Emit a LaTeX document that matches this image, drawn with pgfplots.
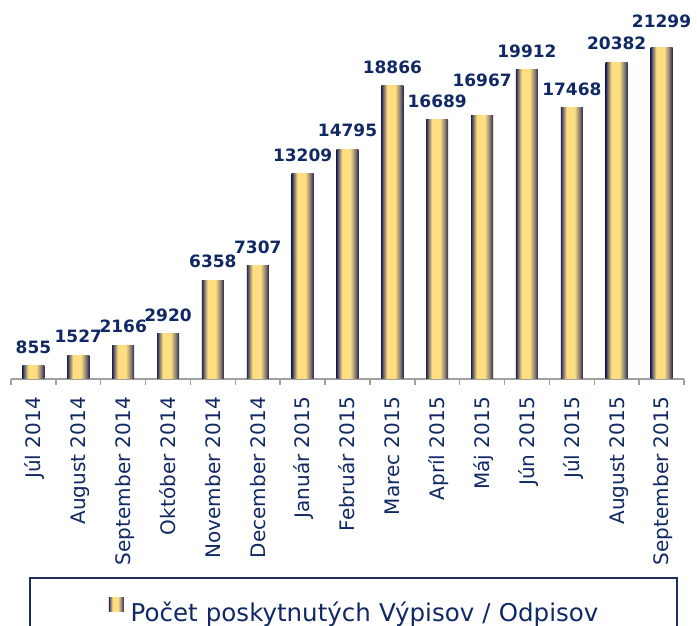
\documentclass[border=0pt]{standalone}
\usepackage{fontspec}
\setmainfont{DejaVu Sans}
\usepackage{pgfplots}
\pgfplotsset{compat=1.18}
\definecolor{labelnavy}{RGB}{16,40,100}
\definecolor{barnavy}{RGB}{32,36,92}
\definecolor{bargold}{RGB}{254,222,128}
\colorlet{barmid}{bargold!45!barnavy}
\colorlet{barnavyB}{barnavy!75!bargold}
\definecolor{axisgray}{RGB}{160,160,160}
\definecolor{legnavy}{RGB}{30,44,92}
\pgfdeclarehorizontalshading{barshade}{100bp}{color(0bp)=(barnavy); color(25bp)=(barnavy); color(28bp)=(barnavyB); color(38bp)=(bargold); color(56bp)=(bargold); color(68bp)=(barmid); color(75bp)=(barnavy); color(100bp)=(barnavy)}
% one bar per plot so that each bar gets its own shading: x, value, label gap (pt)
\newcommand\onebar[3]{%
  \addplot[bar shift=0pt, draw=none, shading=barshade, shading angle=0, forget plot,
    nodes near coords,
    every node near coord/.append style={anchor=south, inner sep=0pt, font=\fontsize{17}{20}\selectfont\bfseries, text=labelnavy, yshift=#3pt}]
    coordinates {(#1,#2)};}
\begin{document}
\begin{tikzpicture}
\useasboundingbox (0,0) rectangle (697pt,626pt);
\clip (0,0) rectangle (697pt,626pt);
\begin{axis}[
  at={(11pt,247pt)}, anchor=south west,
  scale only axis, width=673pt, height=379pt,
  xmin=-0.5, xmax=14.5, ymin=0, ymax=24388,
  enlargelimits=false,
  ybar, bar width=0.49,
  axis y line=none, axis x line=bottom,
  axis line style={-, draw=axisgray, line width=1.5pt},
  ytick=\empty,
  xtick={0,...,14},
  major tick length=0pt,
  minor xtick={-0.5,0.5,...,14.5},
  minor tick length=6pt,
  tick align=outside,
  tick style={axisgray, line width=1.5pt},
  xticklabels={J\'ul 2014, August 2014, September 2014, Okt\'ober 2014, November 2014, December 2014, Janu\'ar 2015, Febru\'ar 2015, Marec 2015, Apr\'il 2015, M\'aj 2015, J\'un 2015, J\'ul 2015, August 2015, September 2015},
  xticklabel style={rotate=90, anchor=east, inner sep=0pt, font=\fontsize{20}{24}\selectfont, text=labelnavy, text height=14.6pt, text depth=0pt},
  xticklabel shift=18pt,
  /pgf/number format/assume math mode=true,
  /pgf/number format/1000 sep={},
  legend style={at={(0.02675,-0.52375)}, anchor=north west, draw=legnavy, line width=1.5pt, inner sep=0pt,
    nodes={inner sep=0pt, text width=546pt, align=left},
    font=\fontsize{24.5}{29}\selectfont, text=labelnavy},
  legend image code/.code={%
    \pgfpathrectanglecorners{\pgfpoint{0pt}{-40pt}}{\pgfpoint{101pt}{33.9pt}}\pgfusepath{}%
    \fill[shading=barshade, shading angle=0] (79pt,0.4pt) rectangle (94pt,14.4pt);},
]
\onebar{0}{855}{12}
\onebar{1}{1527}{12}
\onebar{2}{2166}{12}
\onebar{3}{2920}{12}
\onebar{4}{6358}{12}
\onebar{5}{7307}{12}
\onebar{6}{13209}{12}
\onebar{7}{14795}{12}
\onebar{8}{18866}{12}
\onebar{9}{16689}{12}
\onebar{10}{16967}{28}
\onebar{11}{19912}{12}
\onebar{12}{17468}{12}
\onebar{13}{20382}{12}
\onebar{14}{21299}{20}
\addlegendimage{draw=none}
\addlegendentry{Počet poskytnutých Výpisov / Odpisov}
\end{axis}
\end{tikzpicture}
\end{document}
